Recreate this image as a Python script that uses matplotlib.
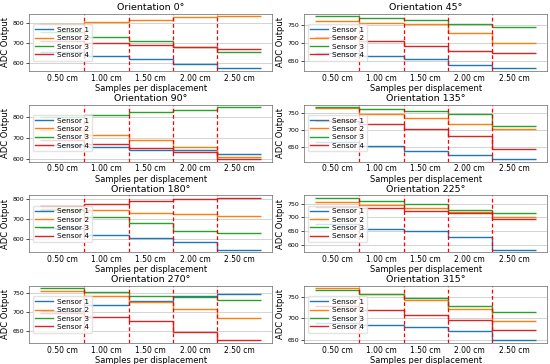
import numpy as np
import matplotlib
matplotlib.use("Agg")
import matplotlib.pyplot as plt
from matplotlib.ticker import MultipleLocator

# ---- data (ADC level per displacement step) ----
displacements = ["0.50 cm", "1.00 cm", "1.50 cm", "2.00 cm", "2.50 cm"]
orientations = ["0°", "45°", "90°", "135°", "180°", "225°", "270°", "315°"]
sensors = ["Sensor 1", "Sensor 2", "Sensor 3", "Sensor 4"]

s1 = [[656, 634, 619, 594, 573],
      [674, 664, 656, 641, 631],
      [668, 659, 646, 643, 625],
      [665, 653, 640, 628, 616],
      [653, 622, 603, 583, 547],
      [676, 658, 649, 628, 582],
      [702, 717, 729, 741, 747],
      [690, 685, 680, 670, 649]]
s2 = [[795, 806, 818, 829, 834],
      [760, 757, 753, 728, 701],
      [740, 714, 692, 660, 610],
      [765, 748, 735, 719, 704],
      [750, 742, 730, 725, 712],
      [756, 746, 735, 719, 703],
      [755, 741, 725, 709, 683],
      [770, 757, 744, 721, 694]]
s3 = [[754, 728, 708, 680, 654],
      [774, 769, 765, 753, 744],
      [803, 813, 825, 837, 849],
      [768, 763, 757, 748, 714],
      [745, 708, 678, 642, 628],
      [772, 762, 750, 729, 715],
      [762, 753, 743, 739, 732],
      [766, 756, 748, 728, 716]]
s4 = [[712, 700, 689, 680, 668],
      [718, 705, 693, 680, 672],
      [690, 672, 652, 635, 602],
      [728, 719, 704, 684, 645],
      [765, 775, 787, 800, 805],
      [738, 733, 725, 716, 694],
      [698, 687, 676, 647, 625],
      [730, 720, 709, 696, 673]]

ytick_step = [100, 50, 100, 50, 100, 50, 50, 50]

colors = ["#1f77b4", "#ff7f0e", "#2ca02c", "#d62728"]

fig, axes = plt.subplots(4, 2, figsize=(5.5, 3.64), dpi=100)
fig.subplots_adjust(left=0.053, right=0.995, top=0.962, bottom=0.058,
                    hspace=0.59, wspace=0.13)

n_seg = len(displacements)
edges = np.arange(n_seg + 1)
centers = edges[:-1] + 0.5

for i, ax in enumerate(axes.flat):
    for k, series in enumerate([s1, s2, s3, s4]):
        ax.stairs(series[i], edges, baseline=None, color=colors[k],
                  lw=1.0, label=sensors[k])
    for b in edges[1:-1]:
        ax.axvline(b, color="red", ls=(0, (3, 2)), lw=0.9)
    ax.set_xlim(-0.25, n_seg + 0.25)
    ax.set_xticks(centers)
    ax.set_xticklabels(displacements, fontsize=5.5)
    ax.yaxis.set_major_locator(MultipleLocator(ytick_step[i]))
    ax.tick_params(axis="y", labelsize=4.5, length=2, width=0.5, pad=1.5)
    ax.tick_params(axis="x", length=0, pad=2)
    ax.grid(axis="y", color="#cccccc", lw=0.6)
    ax.set_axisbelow(True)
    for sp in ax.spines.values():
        sp.set_linewidth(0.5)
        sp.set_color("#666666")
    ax.set_title("Orientation " + orientations[i], fontsize=6.8, pad=2.5)
    ax.set_xlabel("Samples per displacement", fontsize=6, labelpad=1)
    ax.set_ylabel("ADC Output", fontsize=6, labelpad=1.5)
    ax.legend(loc="center left", fontsize=5.3, labelspacing=0.3,
              handlelength=2.4, handletextpad=0.6, borderpad=0.35,
              framealpha=0.8, edgecolor="#dddddd", fancybox=True)

fig.savefig("out.png", dpi=100)
